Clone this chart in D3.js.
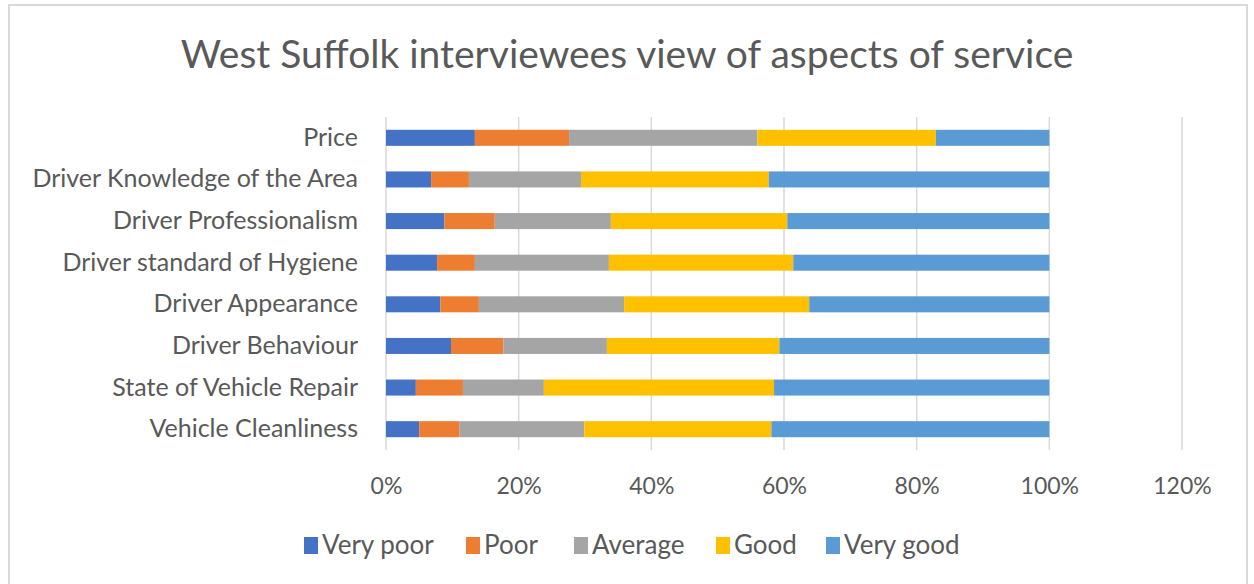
<!DOCTYPE html>
<html>
<head>
<meta charset="utf-8">
<script src="https://cdn.jsdelivr.net/npm/d3@7"></script>
<style>
  body { margin: 0; background: #fff; }
  svg { display: block; font-family: Lato, "Open Sans", sans-serif; }
</style>
</head>
<body>
<svg id="chart" width="1254" height="584"></svg>
<script>
// categories, top to bottom
const categories = [
  'Price',
  'Driver Knowledge of the Area',
  'Driver Professionalism',
  'Driver standard of Hygiene',
  'Driver Appearance',
  'Driver Behaviour',
  'State of Vehicle Repair',
  'Vehicle Cleanliness'
];

const seriesNames = ['Very poor', 'Poor', 'Average', 'Good', 'Very good'];
const seriesColors = ['#4472C4', '#ED7D31', '#A5A5A5', '#FFC000', '#5B9BD5'];

// shares in % per category (same order as categories)
const veryPoor = [13.4, 6.8, 8.8, 7.7, 8.2, 9.8, 4.5, 5.0];
const poor     = [14.2, 5.7, 7.6, 5.7, 5.8, 7.9, 7.1, 6.1];
const average  = [28.4, 16.9, 17.5, 20.2, 21.9, 15.6, 12.2, 18.8];
const good     = [26.9, 28.3, 26.6, 27.8, 27.9, 26.0, 34.7, 28.2];
const veryGood = [17.1, 42.3, 39.5, 38.6, 36.2, 40.7, 41.5, 41.9];

const xTicks = [0, 20, 40, 60, 80, 100, 120];

const svg = d3.select('#chart');
const textColor = '#595959';
const gridColor = '#d9d9d9';

// chart border
svg.append('rect')
  .attr('x', 9).attr('y', 5)
  .attr('width', 1238).attr('height', 600)
  .attr('fill', 'none')
  .attr('stroke', gridColor)
  .attr('stroke-width', 2);

// title
svg.append('text')
  .attr('x', 627).attr('y', 68)
  .attr('text-anchor', 'middle')
  .attr('font-size', '39px')
  .attr('fill', textColor)
  .text('West Suffolk interviewees view of aspects of service');

const x = d3.scaleLinear().domain([0, 120]).range([386, 1182]);
const y = d3.scaleBand().domain(categories).range([117, 450])
  .paddingInner(0.615).paddingOuter(0.3075);

// gridlines
svg.append('g')
  .selectAll('line')
  .data(xTicks)
  .join('line')
  .attr('x1', d => x(d)).attr('x2', d => x(d))
  .attr('y1', 117).attr('y2', 450)
  .attr('stroke', gridColor)
  .attr('stroke-width', 1.5);

// x axis labels
const xAxis = d3.axisBottom(x)
  .tickValues(xTicks)
  .tickSize(0)
  .tickPadding(0)
  .tickFormat(d => d + '%');

svg.append('g')
  .attr('transform', 'translate(0,478)')
  .call(xAxis)
  .call(g => g.select('.domain').remove())
  .call(g => g.selectAll('text')
    .attr('fill', textColor)
    .attr('font-size', '23px')
    .attr('font-family', 'Lato, "Open Sans", sans-serif'));

// y axis labels
const yAxis = d3.axisLeft(y).tickSize(0).tickPadding(0);
svg.append('g')
  .attr('transform', 'translate(358,0)')
  .call(yAxis)
  .call(g => g.select('.domain').remove())
  .call(g => g.selectAll('text')
    .attr('fill', textColor)
    .attr('font-size', '25px')
    .attr('font-family', 'Lato, "Open Sans", sans-serif'));

// stacked bars
const rows = categories.map((c, i) => ({
  category: c,
  'Very poor': veryPoor[i],
  'Poor': poor[i],
  'Average': average[i],
  'Good': good[i],
  'Very good': veryGood[i]
}));

const stacked = d3.stack().keys(seriesNames)(rows);
const color = d3.scaleOrdinal().domain(seriesNames).range(seriesColors);

svg.append('g')
  .selectAll('g')
  .data(stacked)
  .join('g')
  .attr('fill', d => color(d.key))
  .selectAll('rect')
  .data(d => d)
  .join('rect')
  .attr('x', d => x(d[0]))
  .attr('width', d => x(d[1]) - x(d[0]))
  .attr('y', d => y(d.data.category))
  .attr('height', y.bandwidth());

// legend
const legendX = [304, 466, 574, 716, 826];
const legend = svg.append('g')
  .selectAll('g')
  .data(seriesNames)
  .join('g')
  .attr('transform', (d, i) => `translate(${legendX[i]},537)`);

legend.append('rect')
  .attr('width', 14).attr('height', 17)
  .attr('fill', d => color(d));

legend.append('text')
  .attr('x', 18).attr('y', 17)
  .attr('font-size', '26px')
  .attr('fill', textColor)
  .text(d => d);
</script>
</body>
</html>
